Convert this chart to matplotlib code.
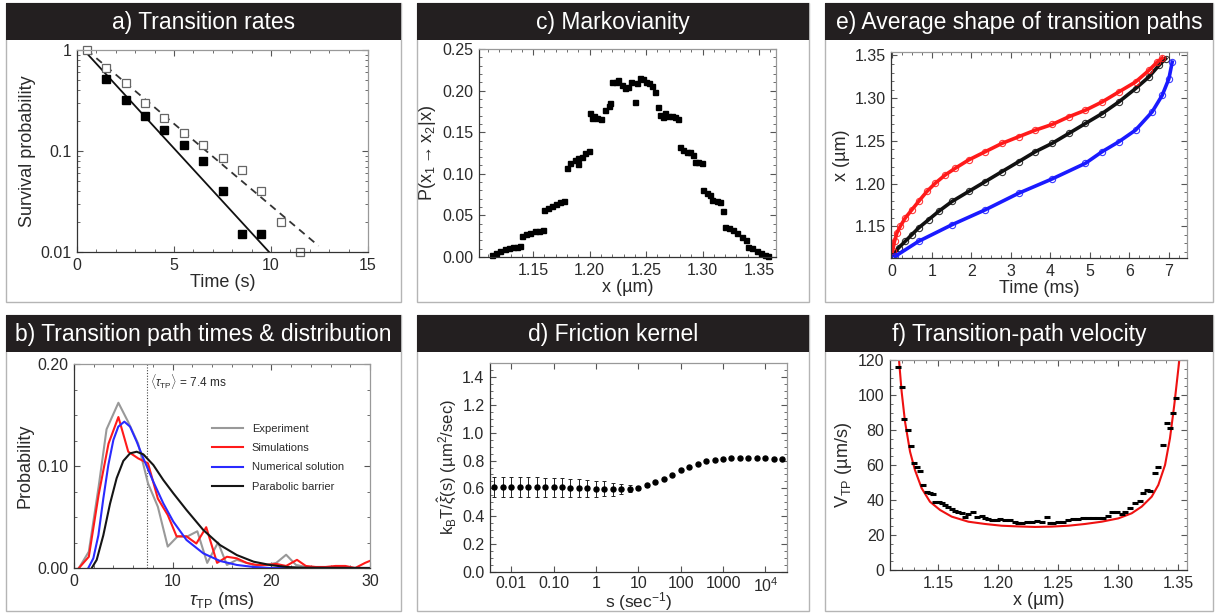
import matplotlib
matplotlib.use('Agg')
import matplotlib.pyplot as plt
from matplotlib.patches import Rectangle
from matplotlib.lines import Line2D
from matplotlib.ticker import FixedLocator, FixedFormatter, FormatStrFormatter, AutoMinorLocator, NullFormatter

plt.rcParams['font.family'] = ['Liberation Sans', 'DejaVu Sans']
plt.rcParams['mathtext.fontset'] = 'custom'
plt.rcParams['mathtext.rm'] = 'Liberation Sans'
plt.rcParams['mathtext.it'] = 'Liberation Sans:italic'
plt.rcParams['mathtext.bf'] = 'Liberation Sans:bold'

W, H = 1219, 613

# a) survival probability
a_time = [0.5, 1.5, 2.5, 3.5, 4.5, 5.5, 6.5, 7.5, 8.5, 9.5, 10.5, 11.5]
a_open = [1.0, 0.67, 0.47, 0.30, 0.21, 0.15, 0.115, 0.085, 0.065, 0.040, 0.020, 0.010]
a_filled_time = [1.5, 2.5, 3.5, 4.5, 5.5, 6.5, 7.5, 8.5, 9.5]
a_filled = [0.52, 0.32, 0.22, 0.16, 0.115, 0.080, 0.040, 0.015, 0.015]
a_fit_solid_t = [0.35, 9.9]
a_fit_solid = [1.0, 0.01]
a_fit_dash_t = [0.5, 12.45]
a_fit_dash = [1.0, 0.0115]

# b) transition path time distribution
b_exp_t = [0.5, 1.5, 2.5, 3.3, 4.5, 5.5, 6.5, 7.5, 8.5, 9.5, 10.5, 11.5, 12.5, 13.5, 14.6,
           15.5, 16.5, 17.5, 18.5, 19.5, 20.5, 21.5, 22.5, 23.5, 24.5, 30.0]
b_exp = [0.0, 0.016, 0.080, 0.136, 0.162, 0.143, 0.122, 0.083, 0.060, 0.021, 0.031, 0.031,
         0.036, 0.005, 0.025, 0.003, 0.008, 0.005, 0.002, 0.003, 0.005, 0.013, 0.003, 0.001,
         0.0, 0.0]
b_sim_t = [0.5, 1.5, 2.5, 3.5, 4.5, 5.5, 6.5, 7.5, 8.5, 9.5, 10.4, 11.4, 12.4, 13.4, 14.5,
           15.5, 16.5, 17.5, 18.5, 19.5, 20.5, 21.5, 22.6, 23.5, 24.5, 25.5, 26.5, 27.5,
           28.5, 29.5, 30.0]
b_sim = [0.0, 0.011, 0.072, 0.122, 0.148, 0.114, 0.1075, 0.1026, 0.068, 0.052, 0.031, 0.031,
         0.024, 0.040, 0.005, 0.011, 0.0095, 0.005, 0.003, 0.003, 0.004, 0.002, 0.008, 0.002,
         0.001, 0.001, 0.002, 0.002, 0.0, 0.005, 0.007]
b_num_t = [1.45, 1.96, 2.47, 2.97, 3.48, 3.99, 4.49, 5.1, 5.68, 6.35, 7.03, 8.04, 9.05,
           10.07, 11.4, 13.1, 14.8, 16.5, 18.2, 19.9, 30.0]
b_num = [0.0, 0.0095, 0.032, 0.068, 0.101, 0.1255, 0.1386, 0.1435, 0.1386, 0.124, 0.1075,
         0.0846, 0.0634, 0.0454, 0.0275, 0.0144, 0.0069, 0.003, 0.001, 0.0, 0.0]
b_par_t = [1.8, 2.3, 2.97, 3.65, 4.32, 5.0, 5.68, 6.35, 7.03, 8.04, 9.05, 10.07, 11.4, 13.1,
           14.8, 16.5, 18.2, 19.9, 21.55, 23.2, 30.0]
b_par = [0.0, 0.008, 0.032, 0.063, 0.088, 0.105, 0.1124, 0.114, 0.1114, 0.101, 0.0863,
         0.0732, 0.0569, 0.0373, 0.0225, 0.0127, 0.0062, 0.0029, 0.001, 0.0003, 0.0]
b_mean_tp = 7.4
b_legend = ['Experiment', 'Simulations', 'Numerical solution', 'Parabolic barrier']

# c) Markovianity
c_x = [1.1134, 1.1169, 1.1208, 1.1246, 1.1282, 1.1317, 1.1356, 1.1385,
       1.1400, 1.1435, 1.1474, 1.1512, 1.1547, 1.1583,
       1.1592, 1.1630, 1.1665, 1.1704, 1.1739, 1.1777,
       1.1798, 1.1827, 1.1866, 1.1895, 1.1901, 1.1931, 1.1960, 1.1990,
       1.2004, 1.2019, 1.2034, 1.2063, 1.2102, 1.2137, 1.2167, 1.2181,
       1.2196, 1.2231, 1.2255, 1.2285, 1.2314, 1.2338, 1.2364, 1.2397, 1.2417, 1.2447,
       1.2476, 1.2497, 1.2526, 1.2556, 1.2580,
       1.2603, 1.2624, 1.2648, 1.2668, 1.2698, 1.2733, 1.2757, 1.2786,
       1.2801, 1.2830, 1.2860, 1.2889, 1.2919, 1.2934, 1.2963, 1.2993,
       1.3007, 1.3037, 1.3066, 1.3087, 1.3125, 1.3155, 1.3184,
       1.3199, 1.3235, 1.3273, 1.3308, 1.3347, 1.3382, 1.3406, 1.3441, 1.3480, 1.3518,
       1.3553, 1.3583]
c_p = [0.0024, 0.0044, 0.0072, 0.0092, 0.0104, 0.0116, 0.0124, 0.0132,
       0.0252, 0.0272, 0.0292, 0.0308, 0.0317, 0.0325,
       0.0565, 0.0593, 0.0617, 0.0637, 0.0661, 0.0673,
       0.1066, 0.1126, 0.1166, 0.1118, 0.1186, 0.1206, 0.1246, 0.1274,
       0.1735, 0.1667, 0.1695, 0.1675, 0.1659, 0.1767, 0.1815, 0.1847,
       0.2099, 0.2107, 0.2127, 0.2067, 0.2035, 0.2047, 0.2107, 0.1867, 0.2087, 0.2147,
       0.2135, 0.2107, 0.2095, 0.2055, 0.1979,
       0.1807, 0.1707, 0.1679, 0.1727, 0.1695, 0.1695, 0.1679, 0.1659,
       0.1318, 0.1286, 0.1266, 0.1258, 0.1226, 0.1146, 0.1138, 0.1134,
       0.0805, 0.0773, 0.0745, 0.0685, 0.0677, 0.0657, 0.0557,
       0.0357, 0.0345, 0.0325, 0.0284, 0.0244, 0.0204, 0.0124, 0.0104, 0.0076, 0.0052,
       0.0024, 0.0012]

# d) friction kernel
d_log_s = [-2.4, -2.2, -2.0, -1.8, -1.6, -1.4, -1.2, -1.0, -0.8, -0.6, -0.4, -0.2, 0.0,
           0.2, 0.4, 0.6, 0.8, 1.0, 1.2, 1.4, 1.6, 1.8, 2.0, 2.2, 2.4, 2.6, 2.8, 3.0, 3.2,
           3.4, 3.6, 3.8, 4.0, 4.2, 4.4]
d_kernel = [0.612, 0.612, 0.611, 0.611, 0.610, 0.610, 0.609, 0.608, 0.607, 0.605, 0.603,
            0.601, 0.598, 0.596, 0.594, 0.593, 0.596, 0.605, 0.621, 0.645, 0.669, 0.699,
            0.730, 0.754, 0.778, 0.794, 0.806, 0.813, 0.820, 0.820, 0.820, 0.820, 0.818,
            0.813, 0.809]
d_err = [0.072, 0.072, 0.071, 0.071, 0.070, 0.070, 0.069, 0.068, 0.067, 0.066, 0.064,
         0.062, 0.058, 0.054, 0.046, 0.036, 0.025, 0.015, 0.008, 0.004, 0, 0, 0, 0, 0, 0,
         0, 0, 0, 0, 0, 0, 0, 0, 0]
d_tick_vals = [0.01, 0.1, 1, 10, 100, 1000, 1e4]
d_tick_labels = ['0.01', '0.10', '1', '10', '100', '1000', r'10$^4$']

# e) average shape of transition paths
e_red_t = [0.008, 0.059, 0.118, 0.203, 0.329, 0.498, 0.667, 0.878, 1.090, 1.343, 1.596,
           1.934, 2.356, 2.779, 3.201, 3.623, 4.046, 4.468, 4.890, 5.313, 5.735, 6.157,
           6.495, 6.706, 6.833]
e_red = [1.1209, 1.1325, 1.1422, 1.1500, 1.1597, 1.1694, 1.1791, 1.1908, 1.2005, 1.2102,
         1.2180, 1.2277, 1.2374, 1.2471, 1.2549, 1.2626, 1.2692, 1.2782, 1.2859, 1.2956,
         1.3073, 1.3189, 1.3325, 1.3422, 1.3469]
e_black_t = [0.034, 0.160, 0.329, 0.498, 0.667, 0.921, 1.174, 1.512, 1.934, 2.356, 2.779,
             3.201, 3.623, 4.046, 4.468, 4.890, 5.313, 5.735, 6.157, 6.495, 6.748, 6.917]
e_black = [1.1170, 1.1248, 1.1325, 1.1403, 1.1481, 1.1578, 1.1675, 1.1791, 1.1908, 1.2024,
           1.2141, 1.2257, 1.2374, 1.2471, 1.2587, 1.2704, 1.2820, 1.2956, 1.3112, 1.3248,
           1.3383, 1.3461]
e_blue_t = [0.076, 0.667, 1.512, 2.356, 3.201, 4.046, 4.890, 5.313, 5.735, 6.157, 6.579,
            6.833, 7.002, 7.086]
e_blue = [1.1150, 1.1325, 1.1519, 1.1694, 1.1888, 1.2055, 1.2238, 1.2374, 1.2490, 1.2626,
          1.2840, 1.3034, 1.3228, 1.3422]

# f) transition-path velocity
f_x = [1.1164, 1.1197, 1.1219, 1.1253, 1.1275, 1.1303, 1.1322, 1.1350, 1.1378, 1.1406,
       1.1433, 1.1461, 1.1475, 1.1508, 1.1531, 1.1558, 1.1586, 1.1614, 1.1642, 1.1669,
       1.1697, 1.1725, 1.1753, 1.1789, 1.1822, 1.1864, 1.1892, 1.1919, 1.1947, 1.1989,
       1.2017, 1.2058, 1.2100, 1.2142, 1.2169, 1.2197, 1.2239, 1.2281, 1.2322, 1.2364,
       1.2411, 1.2433, 1.2461, 1.2503, 1.2544, 1.2586, 1.2628, 1.2669, 1.2711, 1.2753,
       1.2794, 1.2836, 1.2878, 1.2919, 1.2947, 1.2989, 1.3031, 1.3058, 1.3100, 1.3142,
       1.3183, 1.3211, 1.3239, 1.3267, 1.3308, 1.3336, 1.3378, 1.3406, 1.3433, 1.3461,
       1.3483]
f_v = [116.2, 104.4, 86.1, 80.0, 70.9, 61.3, 59.0, 56.6, 48.6, 44.4, 43.8, 43.2, 39.0,
       39.0, 38.1, 37.1, 36.2, 34.9, 33.7, 33.3, 32.4, 30.5, 31.8, 33.0, 30.5, 30.7, 29.5,
       29.1, 28.6, 28.6, 29.0, 28.8, 28.6, 27.6, 27.0, 27.0, 27.6, 27.6, 28.0, 27.6, 30.1,
       26.7, 26.7, 27.2, 27.6, 28.4, 29.1, 29.1, 29.5, 29.5, 29.5, 29.5, 29.9, 30.7, 33.0,
       33.3, 31.8, 33.3, 35.6, 38.1, 39.6, 43.8, 45.7, 45.3, 55.2, 59.0, 71.4, 83.8, 81.0,
       89.5, 98.1]
f_fit_x = [1.1175, 1.1197, 1.1225, 1.1267, 1.1308, 1.1364, 1.1433, 1.1517, 1.1614, 1.1753,
           1.1892, 1.2031, 1.2169, 1.2308, 1.2447, 1.2586, 1.2725, 1.2864, 1.3003, 1.3114,
           1.3197, 1.3281, 1.3336, 1.3392, 1.3433, 1.3469, 1.3497, 1.3511]
f_fit_v = [120, 101.9, 84.8, 67.6, 57.1, 46.7, 39.0, 34.3, 30.5, 27.6, 26.3, 25.3, 24.9,
           24.6, 24.8, 25.3, 26.3, 27.6, 29.5, 32.4, 36.2, 41.9, 48.6, 60.0, 75.2, 94.3,
           111.4, 120]

titles = ['a) Transition rates', 'b) Transition path times & distribution',
          'c) Markovianity', 'd) Friction kernel',
          'e) Average shape of transition paths', 'f) Transition-path velocity']

TXT = '#2a2a2a'
BAR = '#231f20'


def px_axes(fig, left, top, right, bottom):
    return fig.add_axes([left / W, 1 - bottom / H, (right - left) / W, (bottom - top) / H])


def style(ax):
    for side in ('left', 'bottom'):
        ax.spines[side].set_color('#333333')
    for side in ('top', 'right'):
        ax.spines[side].set_color('#999999')
    for sp in ax.spines.values():
        sp.set_linewidth(0.9)
    ax.tick_params(which='both', direction='in', top=True, right=True,
                   colors='#555555', labelcolor=TXT, labelsize=11.5)
    ax.tick_params(which='major', length=4, width=0.8, pad=4)
    ax.tick_params(which='minor', length=2, width=0.6)


def panel_frame(fig, x0, x1, y0, y1, title):
    fig.patches.append(Rectangle((x0 / W, 1 - y1 / H), (x1 - x0) / W, (y1 - y0) / H,
                                 transform=fig.transFigure, fill=False,
                                 edgecolor='#b5b5b5', lw=1.0, zorder=0))
    fig.patches.append(Rectangle((x0 / W, 1 - (y0 + 37) / H), (x1 - x0) / W, 37 / H,
                                 transform=fig.transFigure, facecolor=BAR,
                                 edgecolor=BAR, lw=0, zorder=1))
    fig.text((x0 + x1) / 2 / W, 1 - (y0 + 19.5) / H, title, color='white',
             fontsize=16.5, ha='center', va='center')


fig = plt.figure(figsize=(W / 100, H / 100), dpi=100)

cols = [(6, 401), (417, 809), (825, 1213)]
rows = [(3, 302), (315, 611)]
panel_frame(fig, *cols[0], *rows[0], titles[0])
panel_frame(fig, *cols[0], *rows[1], titles[1])
panel_frame(fig, *cols[1], *rows[0], titles[2])
panel_frame(fig, *cols[1], *rows[1], titles[3])
panel_frame(fig, *cols[2], *rows[0], titles[4])
panel_frame(fig, *cols[2], *rows[1], titles[5])

# ---- a) transition rates
ax = px_axes(fig, 77, 50, 368, 252)
ax.set_yscale('log')
ax.plot(a_fit_solid_t, a_fit_solid, color='#111111', lw=1.3)
ax.plot(a_fit_dash_t, a_fit_dash, color='#333333', lw=1.3, ls=(0, (4, 3)))
ax.plot(a_time, a_open, 's', ms=5.5, mfc='white', mec='#666666', mew=0.9, clip_on=False)
ax.plot(a_filled_time, a_filled, 's', ms=5.5, color='black', clip_on=False)
ax.set_xlim(0, 15)
ax.set_ylim(0.01, 1)
ax.xaxis.set_major_locator(FixedLocator([0, 5, 10, 15]))
ax.xaxis.set_minor_locator(AutoMinorLocator(5))
ax.yaxis.set_major_locator(FixedLocator([0.01, 0.1, 1]))
ax.yaxis.set_major_formatter(FixedFormatter(['0.01', '0.1', '1']))
ax.yaxis.set_minor_formatter(NullFormatter())
style(ax)
ax.set_xlabel('Time (s)', fontsize=13, color=TXT, labelpad=1)
ax.set_ylabel('Survival probability', fontsize=13, color=TXT, labelpad=3)

# ---- b) transition path times
ax = px_axes(fig, 74, 364, 370, 568)
ax.axvline(b_mean_tp, color='#444444', lw=0.8, ls=(0, (1, 1.5)))
ax.plot(b_exp_t, b_exp, color='#999999', lw=1.5)
ax.plot(b_sim_t, b_sim, color='#ff1a1a', lw=1.5)
ax.plot(b_num_t, b_num, color='#2a2aff', lw=1.5)
ax.plot(b_par_t, b_par, color='#151515', lw=1.5)
ax.set_xlim(0, 30)
ax.set_ylim(0, 0.2)
ax.xaxis.set_major_locator(FixedLocator([0, 10, 20, 30]))
ax.xaxis.set_minor_locator(AutoMinorLocator(5))
ax.yaxis.set_major_locator(FixedLocator([0.0, 0.1, 0.2]))
ax.yaxis.set_major_formatter(FormatStrFormatter('%.2f'))
ax.yaxis.set_minor_locator(AutoMinorLocator(4))
style(ax)
ax.text(7.7, 0.183, r'$\langle\tau_{\rm TP}\rangle$ = 7.4 ms', fontsize=8.5,
        color=TXT, va='center', ha='left')
handles = [Line2D([], [], color=c, lw=1.5) for c in ('#999999', '#ff1a1a', '#2a2aff', '#151515')]
ax.legend(handles, b_legend, loc='upper left', bbox_to_anchor=(0.45, 0.73), frameon=False,
          fontsize=8, handlelength=2.8, labelspacing=0.85, borderaxespad=0,
          labelcolor=TXT)
ax.set_xlabel(r'$\tau_{\rm TP}$ (ms)', fontsize=13, color=TXT, labelpad=1)
ax.set_ylabel('Probability', fontsize=13, color=TXT, labelpad=3)

# ---- c) Markovianity
ax = px_axes(fig, 479, 49, 776, 257)
ax.plot(c_x, c_p, 's', ms=3.6, color='black', clip_on=False)
ax.set_xlim(1.102, 1.365)
ax.set_ylim(0, 0.25)
ax.xaxis.set_major_locator(FixedLocator([1.15, 1.20, 1.25, 1.30, 1.35]))
ax.xaxis.set_major_formatter(FormatStrFormatter('%.2f'))
ax.xaxis.set_minor_locator(AutoMinorLocator(5))
ax.yaxis.set_major_locator(FixedLocator([0, 0.05, 0.10, 0.15, 0.20, 0.25]))
ax.yaxis.set_major_formatter(FormatStrFormatter('%.2f'))
ax.yaxis.set_minor_locator(AutoMinorLocator(5))
style(ax)
ax.set_xlabel('x (µm)', fontsize=13, color=TXT, labelpad=1)
ax.set_ylabel(r'P(x$_1$$\rightarrow$x$_2$|x)', fontsize=13, color=TXT, labelpad=3)

# ---- d) friction kernel
ax = px_axes(fig, 490, 363, 787, 572)
ax.set_xscale('log')
d_s = [10 ** v for v in d_log_s]
ax.errorbar(d_s, d_kernel, yerr=d_err, fmt='o', ms=3.6, color='black', ecolor='#222222',
            elinewidth=0.7, capsize=1.6, capthick=0.7)
ax.set_xlim(10 ** -2.5, 10 ** 4.51)
ax.set_ylim(0, 1.5)
ax.xaxis.set_major_locator(FixedLocator(d_tick_vals))
ax.xaxis.set_major_formatter(FixedFormatter(d_tick_labels))
ax.xaxis.set_minor_formatter(NullFormatter())
ax.yaxis.set_major_locator(FixedLocator([0, 0.2, 0.4, 0.6, 0.8, 1.0, 1.2, 1.4]))
ax.yaxis.set_major_formatter(FormatStrFormatter('%.1f'))
ax.yaxis.set_minor_locator(AutoMinorLocator(4))
style(ax)
ax.tick_params(axis='x', which='major', pad=3)
ax.set_xlabel(r's (sec$^{-1}$)', fontsize=12.5, color=TXT)
ax.xaxis.set_label_coords(0.5, -0.085)
ax.set_ylabel(r'k$_{\rm B}$T/$\hat{\xi}$(s) (µm$^{2}$/sec)', fontsize=12, color=TXT, labelpad=3)

# ---- e) average shape of transition paths
ax = px_axes(fig, 891, 52, 1187, 258)
for t, xv, c in ((e_black_t, e_black, '#111111'), (e_red_t, e_red, '#ff1a1a'),
                 (e_blue_t, e_blue, '#1a1aff')):
    ax.plot(t, xv, color=c, lw=2.6)
    ax.plot(t, xv, 'o', ms=4.5, mfc='none', mec=c, mew=0.8, alpha=0.85)
ax.set_xlim(-0.03, 7.46)
ax.set_ylim(1.113, 1.354)
ax.xaxis.set_major_locator(FixedLocator([0, 1, 2, 3, 4, 5, 6, 7]))
ax.xaxis.set_minor_locator(AutoMinorLocator(4))
ax.yaxis.set_major_locator(FixedLocator([1.15, 1.20, 1.25, 1.30, 1.35]))
ax.yaxis.set_major_formatter(FormatStrFormatter('%.2f'))
ax.yaxis.set_minor_locator(AutoMinorLocator(5))
style(ax)
ax.set_xlabel('Time (ms)', fontsize=13, color=TXT, labelpad=1)
ax.set_ylabel('x (µm)', fontsize=13, color=TXT, labelpad=3)

# ---- f) transition-path velocity
ax = px_axes(fig, 890, 360, 1187, 570)
ax.plot(f_fit_x, f_fit_v, color='#ee1111', lw=1.5)
ax.plot(f_x, f_v, '_', ms=5, mew=2.2, color='black')
ax.set_xlim(1.11, 1.3575)
ax.set_ylim(0, 120)
ax.xaxis.set_major_locator(FixedLocator([1.15, 1.20, 1.25, 1.30, 1.35]))
ax.xaxis.set_major_formatter(FormatStrFormatter('%.2f'))
ax.xaxis.set_minor_locator(AutoMinorLocator(5))
ax.yaxis.set_major_locator(FixedLocator([0, 20, 40, 60, 80, 100, 120]))
ax.yaxis.set_minor_locator(AutoMinorLocator(4))
style(ax)
ax.set_xlabel('x (µm)', fontsize=13, color=TXT, labelpad=1)
ax.set_ylabel(r'V$_{\rm TP}$ (µm/s)', fontsize=13, color=TXT, labelpad=3)

fig.savefig('out.png', dpi=100)
